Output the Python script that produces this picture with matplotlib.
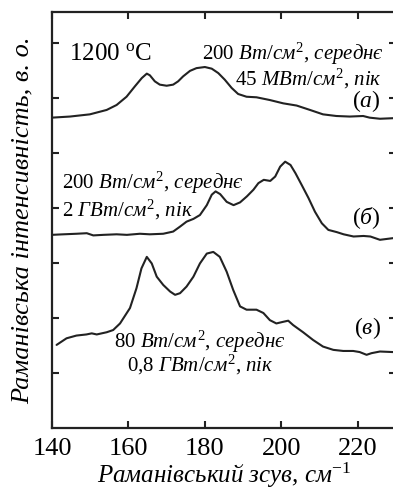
import matplotlib
matplotlib.use("Agg")
import matplotlib.pyplot as plt

plt.rcParams['font.family'] = ['Liberation Serif', 'DejaVu Serif']
plt.rcParams['mathtext.fontset'] = 'custom'
plt.rcParams['mathtext.rm'] = 'Liberation Serif'
plt.rcParams['mathtext.it'] = 'Liberation Serif:italic'

# Raman spectra (vertically offset), shift in cm^-1, intensity in arb. units
shift_a = [139.9, 144.7, 149.9, 154.3, 156.9, 159.5, 161.7, 163.5, 164.8, 165.6, 166.9,
           168.2, 170.0, 171.7, 173.0, 174.3, 176.1, 177.8, 180.0, 181.8, 183.5,
           185.2, 187.0, 188.7, 190.9, 193.5, 197.0, 200.5, 204.0, 207.5, 210.9,
           214.4, 217.9, 221.4, 223.1, 225.8, 229.2]
int_a = [5.64, 5.66, 5.70, 5.78, 5.87, 6.02, 6.21, 6.36, 6.44, 6.41, 6.30,
         6.24, 6.22, 6.24, 6.30, 6.39, 6.49, 6.54, 6.56, 6.53, 6.45,
         6.33, 6.18, 6.07, 6.02, 6.01, 5.96, 5.90, 5.86, 5.78, 5.70,
         5.67, 5.66, 5.67, 5.64, 5.62, 5.63]

shift_b = [139.9, 143.0, 146.4, 149.1, 150.8, 153.4, 156.9, 159.6, 163.0, 165.6, 169.1,
           171.7, 173.5, 175.2, 177.0, 178.7, 180.5, 181.8, 182.8, 184.0, 185.7,
           187.5, 189.2, 191.0, 192.7, 194.0, 195.4, 197.1, 198.4, 199.7, 201.0,
           202.4, 203.7, 205.3, 207.1, 208.8, 210.6, 212.3, 214.5, 216.3, 218.9,
           221.5, 223.3, 225.8, 229.2]
int_b = [3.51, 3.52, 3.53, 3.54, 3.50, 3.51, 3.52, 3.51, 3.53, 3.52, 3.53,
         3.57, 3.66, 3.75, 3.80, 3.87, 4.05, 4.24, 4.30, 4.25, 4.11,
         4.05, 4.10, 4.21, 4.33, 4.45, 4.51, 4.49, 4.57, 4.75, 4.84,
         4.78, 4.63, 4.42, 4.18, 3.93, 3.72, 3.60, 3.56, 3.52, 3.48,
         3.49, 3.48, 3.42, 3.45]

shift_c = [141.2, 143.8, 146.4, 149.0, 150.4, 151.7, 154.3, 156.0, 157.8, 160.4, 162.1,
           163.4, 164.8, 166.1, 167.4, 169.1, 170.9, 172.2, 173.5, 175.2, 177.0,
           178.7, 180.5, 182.2, 183.9, 185.7, 187.4, 189.2, 190.9, 193.5, 195.3,
           197.0, 198.7, 200.5, 201.8, 203.1, 205.7, 208.3, 210.9, 213.6, 216.2,
           218.8, 220.5, 222.3, 223.6, 225.8, 229.2]
int_c = [1.51, 1.63, 1.68, 1.70, 1.72, 1.70, 1.74, 1.78, 1.90, 2.18, 2.54,
         2.90, 3.11, 2.99, 2.75, 2.60, 2.48, 2.42, 2.45, 2.57, 2.75,
         2.99, 3.17, 3.20, 3.11, 2.84, 2.51, 2.21, 2.15, 2.15, 2.09,
         1.96, 1.90, 1.93, 1.95, 1.87, 1.74, 1.60, 1.48, 1.42, 1.40,
         1.40, 1.38, 1.33, 1.36, 1.39, 1.38]

x_ticks = [140, 160, 180, 200, 220]
y_ticks = [1, 2, 3, 4, 5, 6, 7]

fig = plt.figure(figsize=(3.93, 4.95), dpi=100)
ax = fig.add_axes([52 / 393, 1 - 428 / 495, 344 / 393, 416 / 495])

for xs, ys in [(shift_a, int_a), (shift_b, int_b), (shift_c, int_c)]:
    ax.plot(xs, ys, color='#222222', lw=1.5, solid_joinstyle='round',
            solid_capstyle='round')

ax.set_xlim(140, 230)
ax.set_ylim(0, 7.56)
ax.set_xticks(x_ticks)
ax.set_yticks(y_ticks)
ax.set_yticklabels([])
ax.tick_params(direction='in', length=5, width=1.5, top=True, right=True,
               labelsize=19, pad=7, colors='#222222', labelcolor='black')
for s in ax.spines.values():
    s.set_linewidth(1.6)
    s.set_color('#222222')

ax.set_xlabel(r"Раманівський зсув, см$^{-1}$", fontsize=18, style='italic', labelpad=1)
ax.set_ylabel("Раманівська інтенсивність, в. о.", fontsize=19, style='italic', labelpad=6)

fs = 15
ax.text(0.05, 0.9, "1200 $^{\\mathrm{o}}$C", transform=ax.transAxes, fontsize=18, va='center')
ax.text(0.965, 0.9, r"200 $\mathit{Вт/см}^{2}$, $\mathit{середнє}$",
        transform=ax.transAxes, fontsize=fs, ha='right', va='center')
ax.text(0.958, 0.84, r"45 $\mathit{МВт/см}^{2}$, $\mathit{пік}$",
        transform=ax.transAxes, fontsize=fs, ha='right', va='center')
ax.text(0.955, 0.785, r"($\mathit{а}$)", transform=ax.transAxes, fontsize=17,
        ha='right', va='center')

ax.text(0.028, 0.59, r"200 $\mathit{Вт/см}^{2}$, $\mathit{середнє}$",
        transform=ax.transAxes, fontsize=fs, ha='left', va='center')
ax.text(0.028, 0.525, r"2 $\mathit{ГВт/см}^{2}$, $\mathit{пік}$",
        transform=ax.transAxes, fontsize=fs, ha='left', va='center')
ax.text(0.955, 0.505, r"($\mathit{б}$)", transform=ax.transAxes, fontsize=17,
        ha='right', va='center')

ax.text(0.43, 0.207, r"80 $\mathit{Вт/см}^{2}$, $\mathit{середнє}$",
        transform=ax.transAxes, fontsize=fs, ha='center', va='center')
ax.text(0.43, 0.152, r"0,8 $\mathit{ГВт/см}^{2}$, $\mathit{пік}$",
        transform=ax.transAxes, fontsize=fs, ha='center', va='center')
ax.text(0.955, 0.24, r"($\mathit{в}$)", transform=ax.transAxes, fontsize=17,
        ha='right', va='center')

fig.savefig("out.png", dpi=100)
